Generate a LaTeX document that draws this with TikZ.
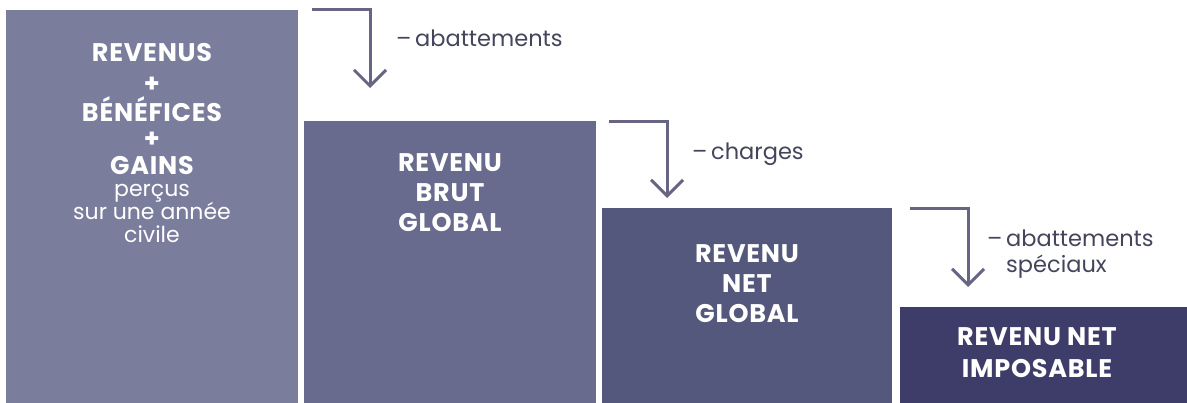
\documentclass[tikz,border=0pt]{standalone}
\usepackage{fontspec}
\setmainfont{Poppins}
\usetikzlibrary{arrows.meta}
\definecolor{cA}{RGB}{122,125,156}
\definecolor{cB}{RGB}{104,107,141}
\definecolor{cC}{RGB}{85,88,125}
\definecolor{cD}{RGB}{62,61,106}
\definecolor{arrc}{RGB}{102,102,132}
\definecolor{lblc}{RGB}{68,69,92}
\tikzset{
  blk/.style={draw=none,inner sep=0pt,anchor=north west},
  bt/.style={anchor=base,text=white,inner sep=0pt,font=\fontsize{25.5}{28}\selectfont\bfseries\addfontfeatures{LetterSpace=3}},
  rt/.style={anchor=base,text=white,inner sep=0pt,font=\fontsize{22}{23}\selectfont},
  lbl/.style={anchor=base west,text=lblc,inner sep=0pt,font=\fontsize{22.5}{23}\selectfont},
  arr/.style={draw=arrc,line width=3pt,-{Straight Barb[length=16pt,width=32pt,line width=3pt]}},
}
\begin{document}
\begin{tikzpicture}[x=1pt,y=-1pt]
\useasboundingbox (0,0) rectangle (1187,403);
\fill[white] (0,0) rectangle (1187,403);
% blocks
\node[blk,fill=cA,minimum width=292pt,minimum height=393pt] (b1) at (6,10) {};
\node[blk,fill=cB,minimum width=292pt,minimum height=282pt] (b2) at (304,121) {};
\node[blk,fill=cC,minimum width=290pt,minimum height=195pt] (b3) at (602,208) {};
\node[blk,fill=cD,minimum width=287pt,minimum height=96pt] (b4) at (900,307) {};
% block 1 text
\node[bt] (t11) at (152,62) {REVENUS};
\node[bt] (t12) at (152,93) {+};
\node[bt] (t13) at (152,122) {BÉNÉFICES};
\node[bt] (t14) at (152,148) {+};
\node[bt] (t15) at (152,175) {GAINS};
\node[rt] (t16) at (152,197) {perçus};
\node[rt] (t17) at (152,220) {sur une année};
\node[rt] (t18) at (152,243) {civile};
% block 2 text
\node[bt] (t21) at (450,172) {REVENU};
\node[bt] (t22) at (450,202) {BRUT};
\node[bt] (t23) at (450,232) {GLOBAL};
% block 3 text
\node[bt] (t31) at (747,263) {REVENU};
\node[bt] (t32) at (747,293) {NET};
\node[bt] (t33) at (747,323) {GLOBAL};
% block 4 text
\node[bt] (t41) at (1037,346) {REVENU NET};
\node[bt] (t42) at (1037,378) {IMPOSABLE};
% arrows
\coordinate (s1) at (312,10);
\coordinate (e1) at (370,88);
\draw[arr] (s1) -| (e1);
\coordinate (s2) at (609,122);
\coordinate (e2) at (667,198);
\draw[arr] (s2) -| (e2);
\coordinate (s3) at (910,209);
\coordinate (e3) at (968,287);
\draw[arr] (s3) -| (e3);
% labels
\node[lbl] (l1) at (396,47) {–\,abattements};
\node[lbl] (l2) at (692,160) {–\,charges};
\node[lbl] (l3) at (987,247) {–\,abattements};
\node[lbl] (l4) at (1006,273) {spéciaux};
\end{tikzpicture}
\end{document}
